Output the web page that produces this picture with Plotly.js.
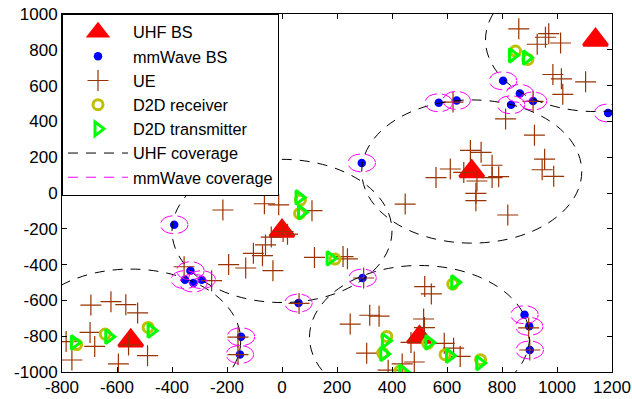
<!DOCTYPE html>
<html><head><meta charset="utf-8">
<script src="https://cdn.plot.ly/plotly-3.0.1.min.js"></script>
<style>html,body{margin:0;padding:0;background:#fff}#chart{width:632px;height:399px}</style>
</head><body><div id="chart"></div>
<script>
// UHF base stations
const uhfX = [0, -550, 500, 690, 1140];
const uhfY = [-212, -825, -805, 120, 855];
// mmWave base stations
const mmX = [-392, -333, -353, -322, -292, 60, -149, -153, 293, 290, 570, 635, 804, 865, 833, 913, 1186, 882, 899, 901];
const mmY = [-177, -434, -484, -503, -484, -615, -803, -902, -475, 168, 504, 517, 627, 556, 493, 514, 447, -680, -745, -877];
// user equipment
const ueX = [-695, -622, -568, -525, -698, -681, -764, -595, -489, -558, -785,
  -215, -64, -12, 109, 4, -39, 20, -60, -104, -71, -132, -194, -33, 118, -256, -356, -160, -160, 62,
  222, 238, 297,
  861, 970, 958, 1013, 928, 985, 1016, 1104, 1021, 913, 813, 918, 955, 946, 988, 622,
  685, 724, 764, 788, 764, 709, 705, 612, 560, 661, 448, 705, 821,
  519, 543, 248, 319, 353, 515, 518, 469, 590, 624, 648, 308, 481, 386, 437, 897, 901];
const ueY = [-626, -607, -624, -670, -779, -857, -933, -955, -909, -849, -830,
  -95, -60, -66, -99, -215, -246, -230, -290, -337, -350, -419, -400, -434, -360, -490, -412, -805, -903, -617,
  -355, -368, -475,
  917, 890, 870, 838, 831, 662, 638, 621, 551, 512, 414, 323, 189, 130, 93, 508,
  238, 227, 155, 91, 86, 67, -2, 134, 86, 115, -62, -43, -123,
  -523, -564, -732, -683, -688, -704, -752, -835, -840, -867, -913, -895, -944, -990, -955, -754, -877];
// D2D receivers
const rxX = [-747, -643, -487, 64, 67, 193, 621, 381, 366, 429, 530, 593, 722, 849, 894];
const rxY = [-847, -788, -751, -114, -39, -369, -509, -801, -894, -994, -840, -903, -931, 793, 746];
// D2D transmitters
const txX = [-755, -630, -476, 71, 62, 175, 628, 376, 370, 439, 534, 609, 719, 838, 889];
const txY = [-835, -803, -769, -108, -25, -365, -499, -825, -899, -998, -835, -909, -950, 769, 756];
// coverage radii
const uhfRadius = 400;
const mmRadius = 50;
// axis ticks
const xTicks = [-800, -600, -400, -200, 0, 200, 400, 600, 800, 1000, 1200];
const yTicks = [-1000, -800, -600, -400, -200, 0, 200, 400, 600, 800, 1000];

const DASH = '10px,8px';
const traces = [
  {type:'scatter', mode:'markers', name:'UHF BS', x:uhfX, y:uhfY,
   marker:{symbol:'triangle-up', size:21, color:'#FF0000', line:{color:'#FF0000', width:3}}},
  {type:'scatter', mode:'markers', name:'mmWave BS', x:mmX, y:mmY,
   marker:{symbol:'circle', size:8.5, color:'#0000FF', line:{width:0}}},
  {type:'scatter', mode:'markers', name:'UE', x:ueX, y:ueY,
   marker:{symbol:'cross-thin-open', size:15, color:'#993300', line:{color:'#993300', width:1.2}}},
  {type:'scatter', mode:'markers', name:'D2D receiver', x:rxX, y:rxY,
   marker:{symbol:'circle-open', size:10, color:'#BFBF00', line:{color:'#BFBF00', width:3}}},
  {type:'scatter', mode:'markers', name:'D2D transmitter', x:txX, y:txY,
   marker:{symbol:'triangle-right-open', size:12, color:'#00FF00', line:{color:'#00FF00', width:3}}},
  {type:'scatter', mode:'lines', name:'UHF coverage', x:[null], y:[null],
   line:{color:'#000000', width:1, dash:DASH}},
  {type:'scatter', mode:'lines', name:'mmWave coverage', x:[null], y:[null],
   line:{color:'#FF00FF', width:1, dash:DASH}}
];

const shapes = [];
uhfX.forEach((cx, i) => {
  shapes.push({type:'circle', xref:'x', yref:'y', x0:cx-uhfRadius, x1:cx+uhfRadius,
    y0:uhfY[i]-uhfRadius, y1:uhfY[i]+uhfRadius, line:{color:'#000000', width:1, dash:DASH}});
});
mmX.forEach((cx, i) => {
  shapes.push({type:'circle', xref:'x', yref:'y', x0:cx-mmRadius, x1:cx+mmRadius,
    y0:mmY[i]-mmRadius, y1:mmY[i]+mmRadius, line:{color:'#FF00FF', width:1, dash:'14px,5px'}});
});

const axisCommon = {showgrid:false, zeroline:false, showline:true, linecolor:'#000', linewidth:1,
  mirror:'ticks', ticks:'inside', ticklen:5, tickcolor:'#000', tickfont:{size:17, color:'#000'}};

const layout = {
  width:632, height:399,
  margin:{l:62, r:20, t:14, b:27},
  paper_bgcolor:'#fff', plot_bgcolor:'#fff',
  font:{family:'Liberation Sans, Arial, sans-serif', size:17, color:'#000'},
  showlegend:true,
  legend:{x:0, y:1, xanchor:'left', yanchor:'top', bgcolor:'#fff', bordercolor:'#000', borderwidth:1,
    font:{size:16.3}, itemwidth:60, tracegroupgap:0},
  xaxis:Object.assign({range:[-800,1200], tickvals:xTicks, ticktext:xTicks.map(String)}, axisCommon),
  yaxis:Object.assign({range:[-1000,1000], tickvals:yTicks, ticktext:yTicks.map(String)}, axisCommon),
  shapes:shapes
};
Plotly.newPlot('chart', traces, layout, {displayModeBar:false, staticPlot:true});
</script></body></html>
